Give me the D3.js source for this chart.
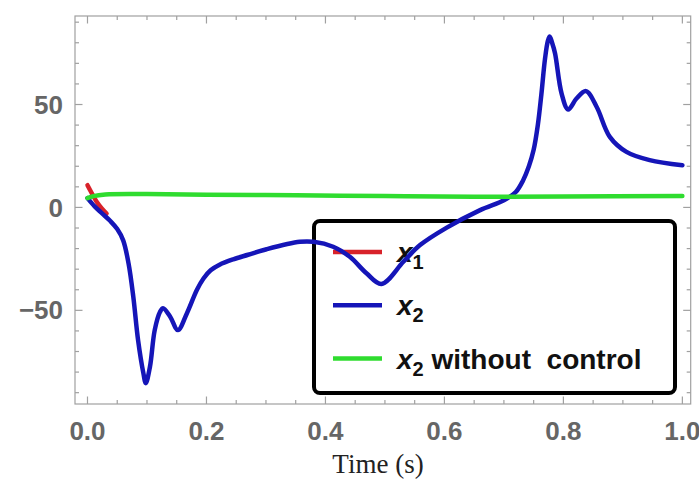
<!DOCTYPE html>
<html>
<head>
<meta charset="utf-8">
<script src="https://cdn.jsdelivr.net/npm/d3@7"></script>
<style>
  body { margin: 0; background: #fff; }
  svg { display: block; }
</style>
</head>
<body>
<div id="chart"></div>
<script>
// values
const time1 = [0, 0.008, 0.016, 0.024, 0.032];
const x1 = [10.8, 6.5, 2.5, -0.5, -3];

const time2 = [0, 0.012, 0.025, 0.038, 0.05, 0.06, 0.069, 0.077, 0.085, 0.094, 0.098, 0.105,
  0.113, 0.122, 0.127, 0.139, 0.152, 0.167, 0.184, 0.195, 0.207, 0.222, 0.245, 0.27, 0.301,
  0.357, 0.38, 0.413, 0.441, 0.469, 0.494, 0.531, 0.559, 0.604, 0.66, 0.7, 0.72, 0.732,
  0.742, 0.75, 0.757, 0.763, 0.769, 0.774, 0.777, 0.781, 0.786, 0.797, 0.808, 0.822, 0.838,
  0.856, 0.878, 0.906, 0.945, 1.0];
const x2 = [4.5, 0.5, -3, -6.5, -10.5, -16, -27.2, -43.4, -64.4, -80.6, -85.4, -77.4,
  -59.6, -50.7, -49, -53.1, -59.6, -51.5, -40, -34.5, -30.5, -27.8, -25.2, -23, -20.3,
  -16.7, -16.7, -19.1, -24, -32, -37.2, -26.4, -18.3, -9.8, -1.3, 3.5, 7.5, 13,
  20, 28, 40, 55, 72, 81, 83, 80, 74.8, 55.3, 47.6, 52.9, 56.5,
  48.8, 34.3, 27, 23, 20.5];

const timeG = [0, 0.01, 0.03, 0.1, 0.2, 0.35, 0.5, 0.65, 0.8, 1.0];
const x2NoControl = [4.5, 5.5, 6.3, 6.5, 6.2, 5.9, 5.5, 5.2, 5.3, 5.5];

const xTicks = [0, 0.2, 0.4, 0.6, 0.8, 1.0];
const xTickLabels = ["0.0", "0.2", "0.4", "0.6", "0.8", "1.0"];
const yTicks = [-50, 0, 50];
const yTickLabels = ["\u221250", "0", "50"];

const series = [
  { name: "x1", sub: "1", rest: "", t: time1, v: x1, color: "#d8222a" },
  { name: "x2", sub: "2", rest: "", t: time2, v: x2, color: "#1515b8" },
  { name: "x2 without control", sub: "2", rest: " without  control", t: timeG, v: x2NoControl, color: "#2fdc2f" }
];

const W = 699, H = 486;
const frame = { left: 75, right: 690.7, top: 16, bottom: 404 };

const svg = d3.select("#chart").append("svg")
    .attr("width", W)
    .attr("height", H);

const x = d3.scaleLinear().domain([-0.021, 1.014]).range([frame.left, frame.right]);
const y = d3.scaleLinear().domain([-95.5, 93]).range([frame.bottom, frame.top]);

const gray = "#a0a0a0";

// frame
svg.append("rect")
    .attr("x", frame.left).attr("y", frame.top)
    .attr("width", frame.right - frame.left)
    .attr("height", frame.bottom - frame.top)
    .attr("fill", "none")
    .attr("stroke", gray)
    .attr("stroke-width", 1.2);

// ticks, all four sides, pointing in
const xMinor = d3.range(0, 1.0001, 0.05).filter(d => !xTicks.some(t => Math.abs(t - d) < 1e-6));
const yMinor = d3.range(-90, 91, 10).filter(d => !yTicks.includes(d));

function tickLines(cls, data, scale, horizontal, len) {
  let g = svg.append("g").attr("class", cls).attr("stroke", gray).attr("stroke-width", 1.2);
  data.forEach(d => {
    if (horizontal) {
      g.append("line").attr("x1", scale(d)).attr("x2", scale(d))
        .attr("y1", frame.bottom).attr("y2", frame.bottom - len);
      g.append("line").attr("x1", scale(d)).attr("x2", scale(d))
        .attr("y1", frame.top).attr("y2", frame.top + len);
    } else {
      g.append("line").attr("y1", scale(d)).attr("y2", scale(d))
        .attr("x1", frame.left).attr("x2", frame.left + len);
      g.append("line").attr("y1", scale(d)).attr("y2", scale(d))
        .attr("x1", frame.right).attr("x2", frame.right - len);
    }
  });
}
tickLines("xmajor", xTicks, x, true, 7.5);
tickLines("xminor", xMinor, x, true, 4);
tickLines("ymajor", yTicks, y, false, 7.5);
tickLines("yminor", yMinor, y, false, 4);

// tick labels
svg.append("g").selectAll("text")
  .data(xTicks)
  .join("text")
    .attr("x", d => x(d))
    .attr("y", frame.bottom + 36)
    .attr("text-anchor", "middle")
    .attr("font-family", "Liberation Sans, Arial, sans-serif")
    .attr("font-weight", "bold")
    .attr("font-size", 26)
    .attr("fill", "#666")
    .text((d, i) => xTickLabels[i]);

svg.append("g").selectAll("text")
  .data(yTicks)
  .join("text")
    .attr("x", frame.left - 12)
    .attr("y", d => y(d))
    .attr("dy", "0.35em")
    .attr("text-anchor", "end")
    .attr("font-family", "Liberation Sans, Arial, sans-serif")
    .attr("font-weight", "bold")
    .attr("font-size", 26)
    .attr("fill", "#666")
    .text((d, i) => yTickLabels[i]);

// axis title
svg.append("text")
    .attr("x", 378)
    .attr("y", 473)
    .attr("text-anchor", "middle")
    .attr("font-family", "Liberation Serif, Times New Roman, serif")
    .attr("font-size", 27)
    .attr("fill", "#222")
    .text("Time (s)");

// legend (under the curves)
const legend = svg.append("g").attr("transform", "translate(314,221)");
legend.append("rect")
    .attr("width", 361).attr("height", 172)
    .attr("rx", 6)
    .attr("fill", "none")
    .attr("stroke", "#000")
    .attr("stroke-width", 4);

const entry = legend.selectAll("g.entry")
  .data(series)
  .join("g")
    .attr("class", "entry")
    .attr("transform", (d, i) => `translate(0,${31 + i * 53.3})`);

entry.append("line")
    .attr("x1", 19).attr("x2", 68)
    .attr("stroke", d => d.color)
    .attr("stroke-width", 4.5);

const label = entry.append("text")
    .attr("x", 83)
    .attr("y", 10)
    .attr("font-family", "Liberation Sans, Arial, sans-serif")
    .attr("font-weight", "bold")
    .attr("font-size", 28)
    .attr("fill", "#111")
    .style("white-space", "pre");
label.append("tspan").attr("font-style", "italic").text("x");
label.append("tspan").attr("font-size", 20).attr("dy", 7).text(d => d.sub);
label.append("tspan").attr("dy", -7).text(d => d.rest);

// curves
svg.append("clipPath").attr("id", "clip")
  .append("rect")
    .attr("x", frame.left).attr("y", frame.top)
    .attr("width", frame.right - frame.left)
    .attr("height", frame.bottom - frame.top);

const line = d3.line()
    .x(d => x(d[0]))
    .y(d => y(d[1]))
    .curve(d3.curveCatmullRom.alpha(0.5));

svg.append("g").attr("clip-path", "url(#clip)")
  .selectAll("path")
  .data(series)
  .join("path")
    .attr("d", d => line(d.t.map((t, i) => [t, d.v[i]])))
    .attr("fill", "none")
    .attr("stroke", d => d.color)
    .attr("stroke-width", 4.5)
    .attr("stroke-linejoin", "round")
    .attr("stroke-linecap", "round");
</script>
</body>
</html>
